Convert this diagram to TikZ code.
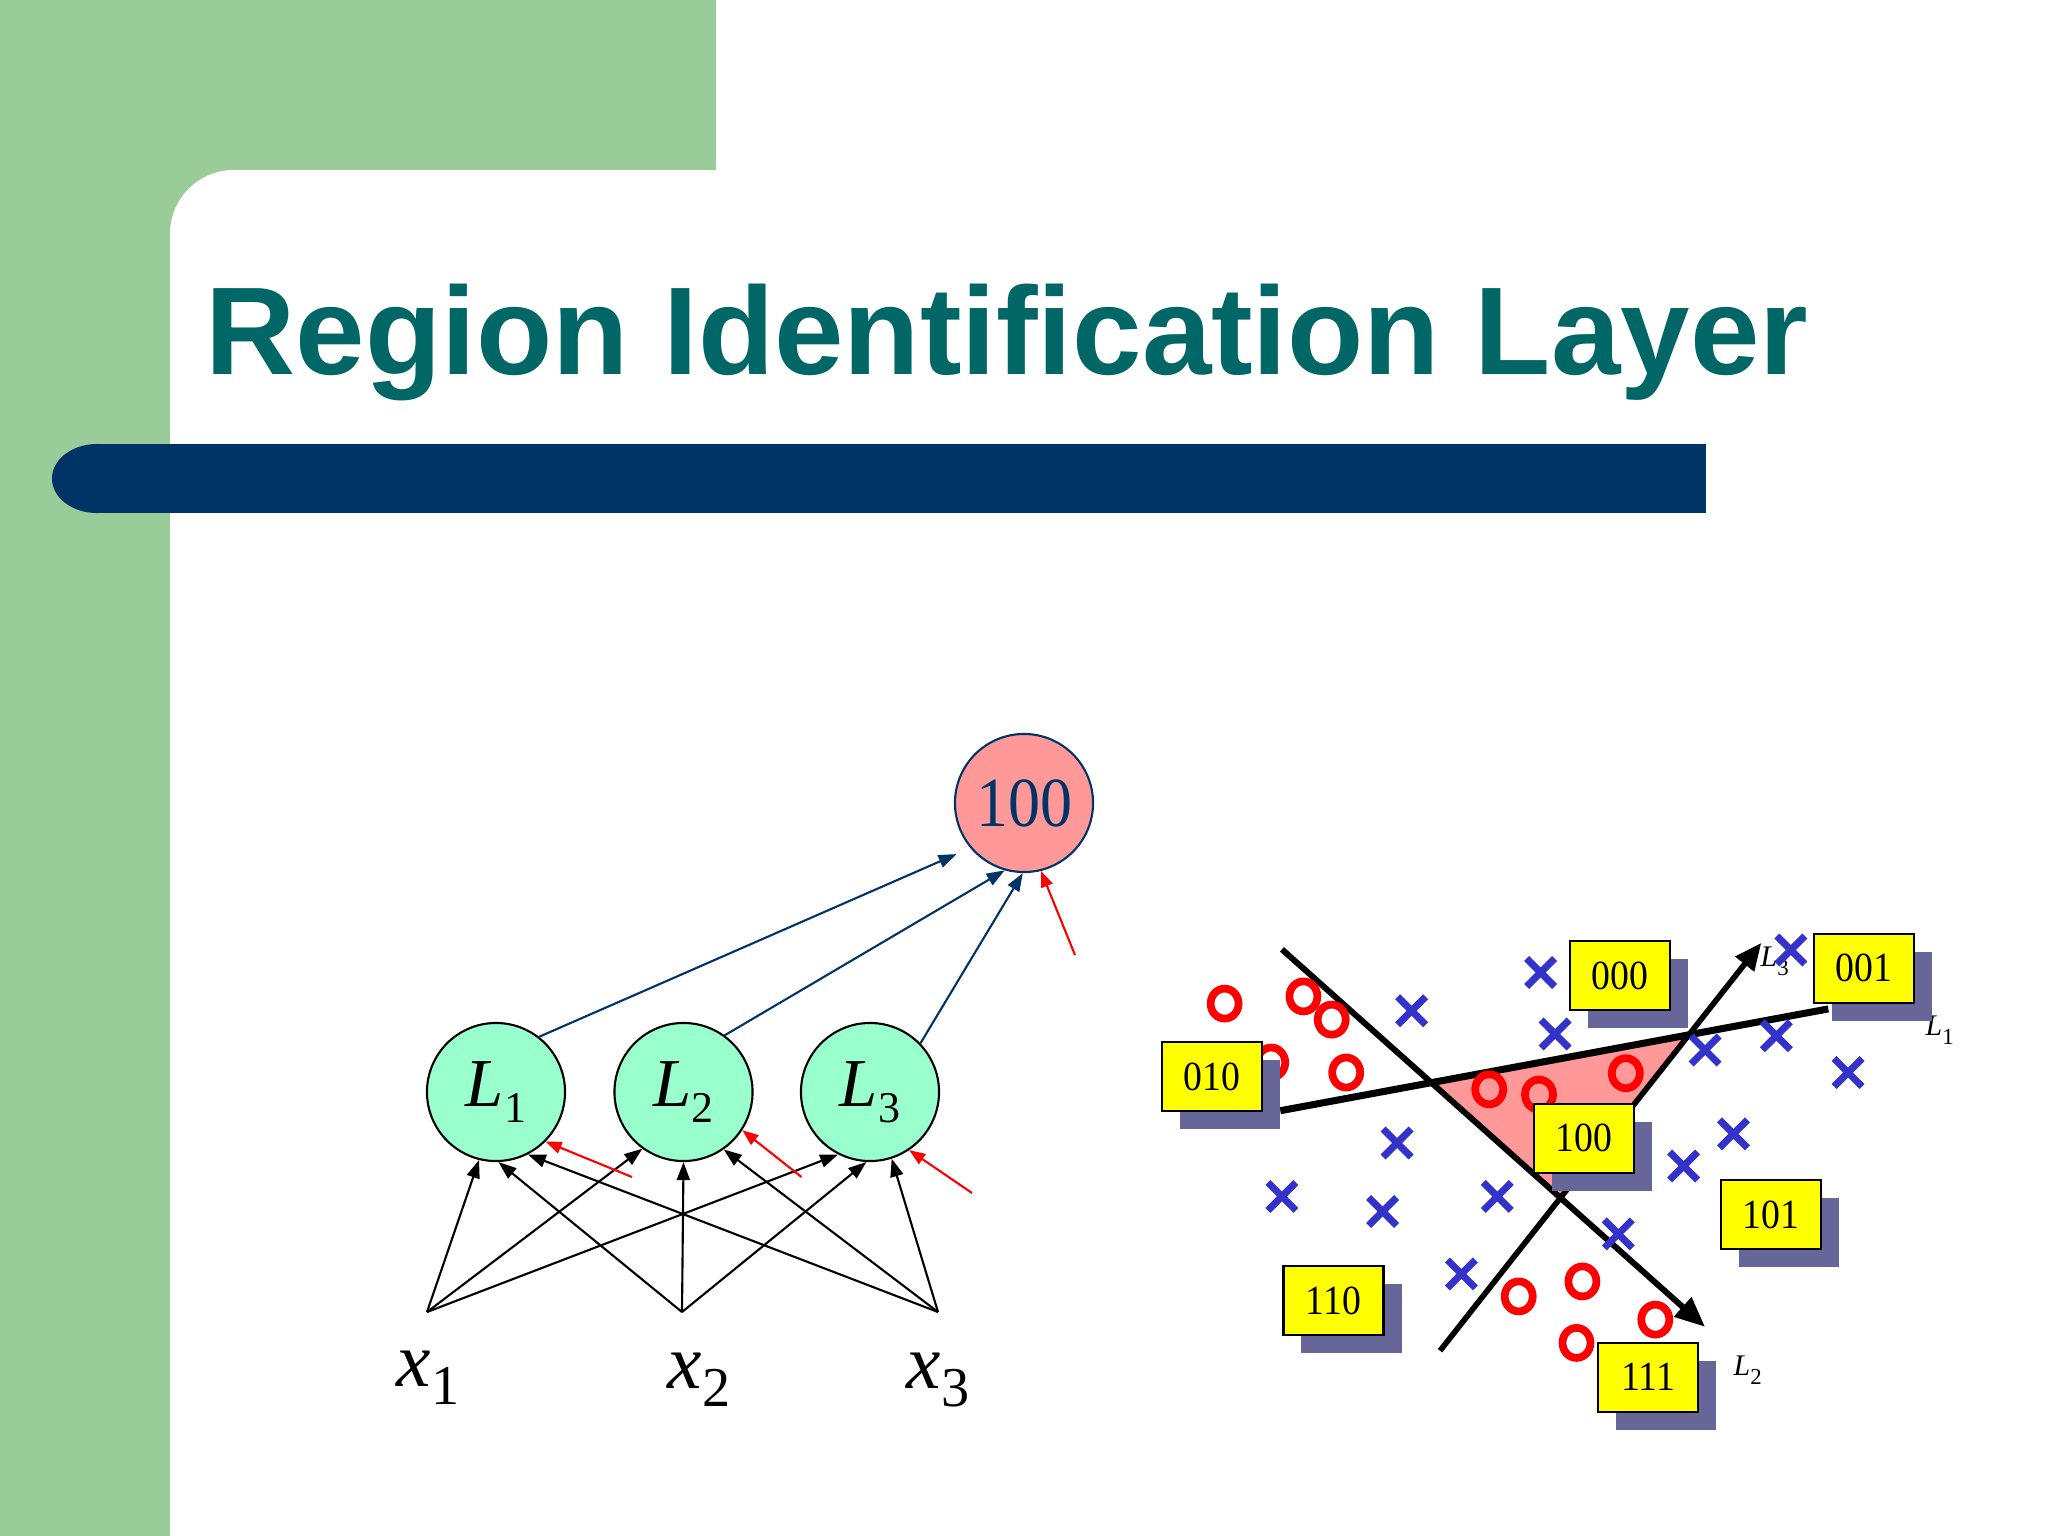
\documentclass[tikz,border=0pt]{standalone}
\usepackage{fontspec}
\setmainfont{Liberation Serif}
\setsansfont{Liberation Sans}
\newfontfamily\condserif[FakeStretch=0.91]{Liberation Serif}
\usetikzlibrary{arrows.meta,shadows}
\definecolor{bggreen}{HTML}{99CC99}
\definecolor{navy}{HTML}{003366}
\definecolor{titlec}{HTML}{006666}
\definecolor{mint}{HTML}{99FFCC}
\definecolor{pinkc}{HTML}{FF9999}
\definecolor{boxyellow}{HTML}{FFFF00}
\definecolor{shadowc}{HTML}{666699}
\definecolor{xblue}{HTML}{3333CC}
\definecolor{ored}{HTML}{FF0000}
\newcommand\Lbig[1]{{\itshape L}\raisebox{-0.16cm}{\fontsize{12.5}{12.5}\selectfont #1}}
\newcommand\Lsmall[1]{{\fontsize{8.5}{8.5}\selectfont\itshape L}\raisebox{-0.09cm}{\fontsize{6.5}{6.5}\selectfont #1}}
\newcommand\xin[1]{{\fontsize{22}{22}\selectfont\itshape x}\raisebox{-0.18cm}{\fontsize{16}{16}\selectfont #1}}
\begin{document}
\begin{tikzpicture}[x=0.01cm,y=-0.01cm,
  lnode/.style={circle, draw=black, line width=0.6pt, fill=mint, minimum size=1.38cm, inner sep=0pt, font=\fontsize{19.5}{19.5}\selectfont},
  onode/.style={circle, draw=navy, line width=0.6pt, fill=pinkc, minimum size=1.38cm, inner sep=0pt, text=navy, font=\condserif\fontsize{20}{20}\selectfont},
  inarrow/.style={-{Triangle[length=0.18cm,width=0.13cm]}, line width=0.6pt, draw=black},
  biasarrow/.style={-{Triangle[length=0.16cm,width=0.12cm]}, line width=0.6pt, draw=ored, fill=ored},
  outarrow/.style={-{Triangle[length=0.18cm,width=0.13cm]}, line width=0.6pt, draw=navy, fill=navy},
  regbox/.style={draw=black, line width=0.6pt, fill=boxyellow, minimum width=1cm, minimum height=0.69cm, inner sep=0pt, font=\condserif\fontsize{11.8}{11.8}\selectfont, general shadow={fill=shadowc, shadow xshift=0.18cm, shadow yshift=-0.18cm}},
  omark/.style={draw=ored, line width=2.2pt},
  xmark/.style={draw=xblue, line width=2pt},
  boundary/.style={draw=black, line cap=butt},
  lablabel/.style={anchor=base west, inner sep=0pt}
]
\useasboundingbox (0,0) rectangle (2048,1536);
% background
\fill[white] (0,0) rectangle (2048,1536);
\fill[bggreen] (0,0) rectangle (716,170);
\fill[bggreen] (0,0) rectangle (170,1536);
\fill[bggreen] (170,170) rectangle (234,234);
\fill[white] (234,234) circle [radius=0.64cm];
% navy bar
\fill[navy] (97,444) rectangle (1706,513);
\fill[navy] (97,478.5) ellipse [x radius=0.45cm, y radius=0.345cm];
% title
\node[anchor=base west, inner sep=0pt, text=titlec, font=\sffamily\bfseries\fontsize{35.5}{35.5}\selectfont] (title) at (205,374) {Region Identification Layer};

% ---- left network ----
\node[lnode] (L1) at (496,1092) {\Lbig{1}};
\node[lnode] (L2) at (683.5,1092) {\Lbig{2}};
\node[lnode] (L3) at (870,1092) {\Lbig{3}};
\node[onode] (O) at (1024,803) {100};
\coordinate (xs1) at (427,1312);
\coordinate (xs2) at (682,1312);
\coordinate (xs3) at (938,1312);
\node[lablabel] (xl1) at (396,1386) {\xin{1}};
\node[lablabel] (xl2) at (667,1388) {\xin{2}};
\node[lablabel] (xl3) at (906,1388) {\xin{3}};

\draw[inarrow] (xs1) -- (L1.256);
\draw[inarrow] (xs1) -- (L2.234);
\draw[inarrow] (xs1) -- (L3.243);
\draw[inarrow] (xs2) -- (L1.272);
\draw[inarrow] (xs2) -- (L2.270);
\draw[inarrow] (xs2) -- (L3.267);
\draw[inarrow] (xs3) -- (L1.297);
\draw[inarrow] (xs3) -- (L2.305);
\draw[inarrow] (xs3) -- (L3.288);

\draw[outarrow, shorten >=0.15cm] (L1.52) -- (O.-140);
\draw[outarrow] (L2.54) -- (O.-106);
\draw[outarrow] (L3.44) -- (O.-91);

\coordinate (bs1) at (632,1177);
\coordinate (bs2) at (801.5,1177);
\coordinate (bs3) at (972,1193);
\coordinate (bs0) at (1075,955);
\draw[biasarrow] (bs1) -- (L1.-45);
\draw[biasarrow] (bs2) -- (L2.-33);
\draw[biasarrow] (bs3) -- (L3.-56);
\draw[biasarrow] (bs0) -- (O.-76);

% ---- right: region plot ----
\fill[pinkc] (1431.4,1082.6) -- (1688.9,1034.8) -- (1560.5,1197.8) -- cycle;
\draw[boundary, line width=2pt] (1280.3,1110.7) -- (1828.3,1008.9);
\draw[boundary, line width=1.7pt, -{Triangle[length=0.3cm,width=0.25cm]}] (1281.9,949.3) -- (1705,1326.8);
\draw[boundary, line width=1.6pt, -{Triangle[length=0.27cm,width=0.23cm]}] (1440,1350.7) -- (1761.3,942.9);

\node[lablabel] (lab1) at (1925,1035) {\Lsmall{1}};
\node[lablabel] (lab2) at (1733,1375) {\Lsmall{2}};
\node[lablabel] (lab3) at (1760,966.7) {\Lsmall{3}};

\foreach \px/\py in {1224.6/1003.6, 1303.4/996.4, 1331.7/1019.6, 1271.2/1062.5, 1346.2/1072.5,
  1489.2/1089.3, 1539/1094.6, 1625.8/1073.2, 1518.7/1296.4, 1582.4/1281.4, 1655.3/1319.6, 1576.5/1342.9}
  \draw[omark] (\px,\py) ellipse [x radius=0.14cm, y radius=0.15cm];

\foreach \px/\py in {1540.6/972.5, 1411.6/1010.7, 1555.1/1033.9, 1790.8/950, 1705/1050,
  1776.3/1035.7, 1848/1072.5, 1733.5/1133.9, 1683.6/1166, 1397.1/1142.9, 1281.9/1196.4,
  1382.6/1211.4, 1497.3/1196.4, 1618.3/1233.9, 1461.4/1273.9}
  \draw[xmark] (\px-14,\py-14) -- (\px+14,\py+14) (\px-14,\py+14) -- (\px+14,\py-14);

\node[regbox] (b000) at (1620.3,975.5) {000};
\node[regbox] (b001) at (1864,968.2) {001};
\node[regbox] (b010) at (1211.6,1076.5) {010};
\node[regbox] (b100) at (1584.2,1138.2) {100};
\node[regbox] (b101) at (1771.2,1214.7) {101};
\node[regbox] (b110) at (1333.5,1300.7) {110};
\node[regbox] (b111) at (1648.3,1377.2) {111};
\end{tikzpicture}
\end{document}
